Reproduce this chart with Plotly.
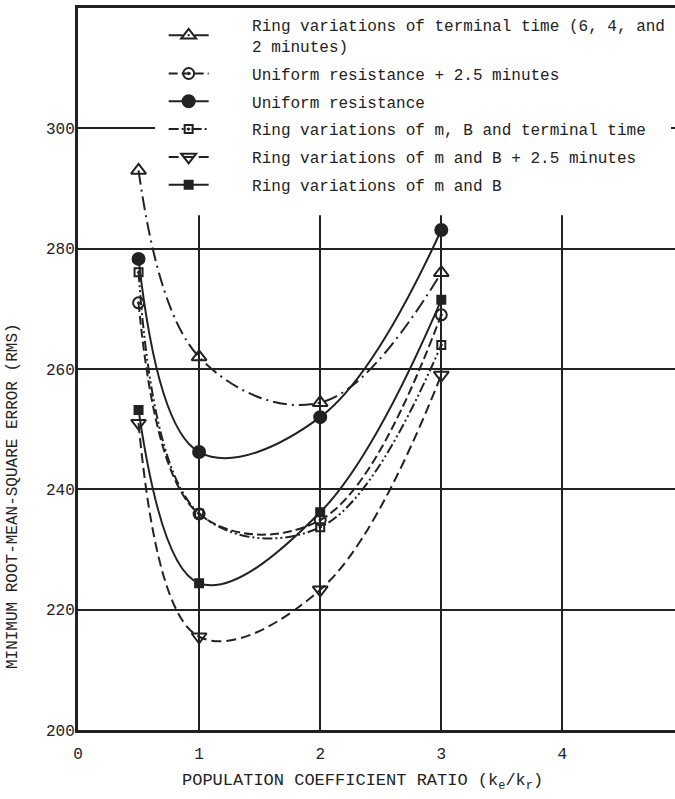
import plotly.graph_objects as go

# Population coefficient ratio (k_e / k_r)
ratio = [0.5, 1, 2, 3]

# Minimum RMS error for each model variant
ring_terminal_time = [293.0, 262.0, 254.4, 276.0]
uniform_plus_25 = [271.0, 235.9, 234.9, 269.0]
uniform_resistance = [278.3, 246.2, 252.0, 283.1]
ring_m_b_terminal = [276.1, 236.0, 233.7, 264.0]
ring_m_b_plus_25 = [251.0, 215.5, 223.3, 259.0]
ring_m_b = [253.2, 224.4, 236.2, 271.5]

x_ticks = [0, 1, 2, 3, 4]
y_ticks = [200, 220, 240, 260, 280, 300]

PAD = "\u00a0" * 4
INK = "#222222"
MONO = "Liberation Mono, Courier New, monospace"

series = [
    (f"{PAD}Ring variations of terminal time (6, 4, and<br>{PAD}2 minutes)",
     ring_terminal_time, "14px,5px,2px,5px", "triangle-up-open", 13),
    (f"{PAD}Uniform resistance + 2.5 minutes",
     uniform_plus_25, "9px,4px", "circle-open-dot", 11),
    (f"{PAD}Uniform resistance",
     uniform_resistance, "solid", "circle", 12),
    (f"{PAD}Ring variations of m, B and terminal time",
     ring_m_b_terminal, "10px,3px,2px,3px,2px,3px", "square-open-dot", 8),
    (f"{PAD}Ring variations of m and B + 2.5 minutes",
     ring_m_b_plus_25, "10px,5px", "triangle-down-open", 13),
    (f"{PAD}Ring variations of m and B",
     ring_m_b, "solid", "square", 8),
]

fig = go.Figure()
for i, (name, vals, dash, symbol, size) in enumerate(series):
    fig.add_trace(go.Scatter(
        x=ratio, y=vals, name=name, legendgroup=f"g{i}",
        mode="lines+markers",
        line=dict(color=INK, width=2, dash=dash, shape="spline", smoothing=1.1),
        marker=dict(symbol=symbol, size=size, color=INK,
                    line=dict(color=INK, width=2)),
    ))

# White panel behind the key, masking the grid underneath it
fig.add_shape(type="rect", xref="paper", yref="paper", layer="above",
              x0=0.129, x1=0.975, y0=0.713, y1=0.997,
              fillcolor="white", line=dict(width=0))

fig.update_layout(
    width=675, height=799,
    margin=dict(l=78, r=0, t=8, b=69),
    paper_bgcolor="white", plot_bgcolor="white",
    font=dict(family=MONO, size=16, color=INK),
    showlegend=True,
    legend=dict(
        x=0.1435, y=1, xanchor="left", yanchor="top",
        bgcolor="white", borderwidth=0,
        font=dict(family=MONO, size=16, color=INK),
        tracegroupgap=4, itemwidth=40,
    ),
    xaxis=dict(
        range=[0, 4.93], tickmode="array", tickvals=x_ticks,
        ticktext=[str(t) for t in x_ticks],
        showgrid=True, gridcolor=INK, gridwidth=2,
        showline=True, linecolor=INK, linewidth=3, mirror=True,
        zeroline=False, ticks="", ticklabelstandoff=7,
        tickfont=dict(family=MONO, size=16, color=INK),
    ),
    yaxis=dict(
        range=[200, 320], tickmode="array", tickvals=y_ticks,
        ticktext=[str(t) for t in y_ticks],
        showgrid=True, gridcolor=INK, gridwidth=2,
        showline=True, linecolor=INK, linewidth=3, mirror=False,
        zeroline=False, ticks="", ticklabelstandoff=-3,
        tickfont=dict(family=MONO, size=16, color=INK),
    ),
    annotations=[
        dict(text="POPULATION COEFFICIENT RATIO (k<sub>e</sub>/k<sub>r</sub>)",
             xref="paper", yref="paper", x=0.476, y=0, yshift=-52,
             xanchor="center", yanchor="middle", showarrow=False,
             font=dict(family=MONO, size=17, color=INK)),
        dict(text="MINIMUM ROOT-MEAN-SQUARE ERROR (RMS)",
             xref="paper", yref="paper", x=0, xshift=-65, y=0.324,
             xanchor="center", yanchor="middle", textangle=-90, showarrow=False,
             font=dict(family=MONO, size=16, color=INK)),
    ],
)

fig.write_html("out.html")
